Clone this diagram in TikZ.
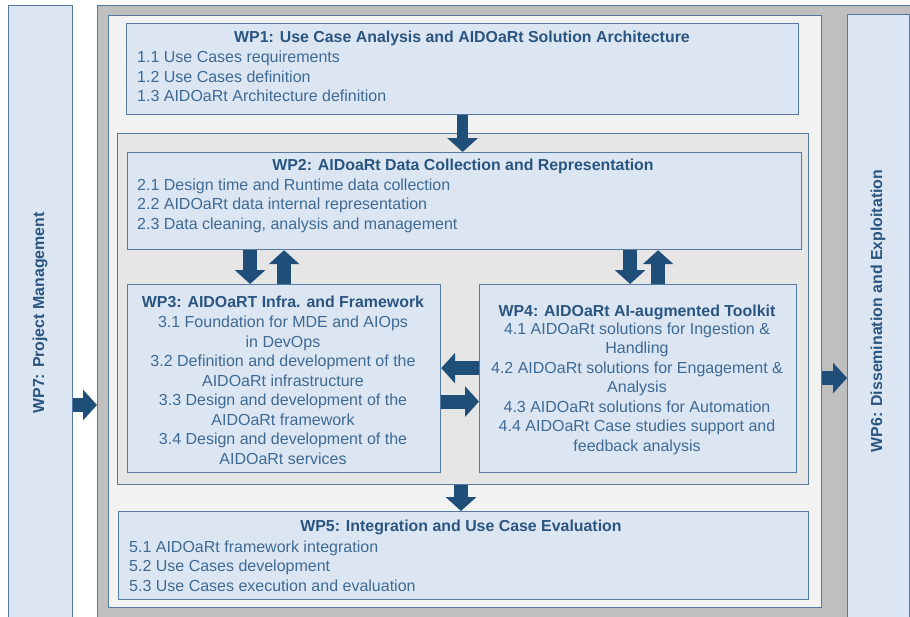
\documentclass[tikz,border=0pt]{standalone}
\usepackage{fontspec}
\setmainfont{Liberation Sans}
\usepackage{tikz}
\usetikzlibrary{arrows.meta, positioning, calc}

\definecolor{boxfill}{HTML}{DCE6F2}
\definecolor{boxline}{HTML}{56799F}
\definecolor{titlecol}{HTML}{2A5580}
\definecolor{itemcol}{HTML}{3E6A94}
\definecolor{arrowcol}{HTML}{1F4E79}
\definecolor{outergray}{HTML}{BFBFBF}
\definecolor{innerlight}{HTML}{F2F2F2}
\definecolor{groupgray}{HTML}{E6E6E6}

\tikzset{
  wpbox/.style={draw=boxline, line width=1.2pt, fill=boxfill, inner sep=0pt, anchor=north west},
  wptitle/.style={text=titlecol, font=\fontsize{15.9}{19.5}\selectfont\bfseries, inner sep=0pt},
  wpitem/.style={text=itemcol, font=\fontsize{16}{19.5}\selectfont, inner sep=0pt},
  blockarrow/.style={draw=arrowcol, line width=14pt, -{Triangle[length=14pt,width=30pt]}}
}

\begin{document}
\begin{tikzpicture}[x=1pt, y=-1pt]
  \clip (0,0) rectangle (910,616);
  \fill[white] (0,0) rectangle (910,616);

  % WP7 side bar
  \node[wpbox, minimum width=64pt, minimum height=640pt] (wp7) at (8,5) {};
  \node[wptitle, rotate=90] (wp7t) at (40,313) {WP7: Project Management};

  % Outer gray frame and inner light panel
  \node[wpbox, fill=outergray, minimum width=830pt, minimum height=640pt] (outer) at (97,5) {};
  \node[wpbox, fill=innerlight, minimum width=713pt, minimum height=592pt] (inner) at (108,15) {};

  % WP6 side bar
  \node[wpbox, minimum width=62pt, minimum height=640pt] (wp6) at (847,14) {};
  \node[wptitle, rotate=90] (wp6t) at (878,311) {WP6: Dissemination and Exploitation};

  % WP1
  \node[wpbox, minimum width=672pt, minimum height=91pt] (wp1) at (126,23) {};
  \node[wptitle] (wp1t) at (462,38) {WP1: Use Case Analysis and AIDOaRt Solution Architecture};
  \node[wpitem, anchor=west, align=left] (wp1i) at (137,76.5)
    {1.1 Use Cases requirements\\1.2 Use Cases definition\\1.3 AIDOaRt Architecture definition};

  % Group of WP2, WP3, WP4
  \node[wpbox, fill=groupgray, minimum width=691pt, minimum height=351pt] (grp) at (117,133) {};

  % WP2
  \node[wpbox, minimum width=674pt, minimum height=97pt] (wp2) at (127,152) {};
  \node[wptitle] (wp2t) at (463,166) {WP2: AIDoaRt Data Collection and Representation};
  \node[wpitem, anchor=west, align=left] (wp2i) at (137,205.5)
    {2.1 Design time and Runtime data collection\\2.2 AIDOaRt data internal representation\\2.3 Data cleaning, analysis and management};

  % WP3
  \node[wpbox, minimum width=313pt, minimum height=188pt] (wp3) at (127,284) {};
  \node[wptitle] (wp3t) at (283,302) {WP3: AIDOaRT Infra. and Framework};
  \node[wpitem, align=center] (wp3i) at (283,390.5)
    {3.1 Foundation for MDE and AIOps\\in DevOps\\3.2 Definition and development of the\\AIDOaRt infrastructure\\3.3 Design and development of the\\AIDOaRt framework\\3.4 Design and development of the\\AIDOaRt services};

  % WP4
  \node[wpbox, minimum width=317pt, minimum height=188pt] (wp4) at (479,284) {};
  \node[wptitle] (wp4t) at (637,312) {WP4: AIDOaRt AI-augmented Toolkit};
  \node[wpitem, align=center] (wp4i) at (637,388.5)
    {4.1 AIDOaRt solutions for Ingestion \&\\Handling\\4.2 AIDOaRt solutions for Engagement \&\\Analysis\\4.3 AIDOaRt solutions for Automation\\4.4 AIDOaRt Case studies support and\\feedback analysis};

  % WP5
  \node[wpbox, minimum width=690pt, minimum height=88pt] (wp5) at (118,511) {};
  \node[wptitle] (wp5t) at (461,527) {WP5: Integration and Use Case Evaluation};
  \node[wpitem, anchor=west, align=left] (wp5i) at (129,566)
    {5.1 AIDOaRt framework integration\\5.2 Use Cases development\\5.3 Use Cases execution and evaluation};

  % Arrow anchor points
  \coordinate (dn3) at ($(wp3.north)+(-34,0)$);
  \coordinate (dn4) at ($(wp4.north)+(-8,0)$);
  \coordinate (up4) at ($(wp4.north)+(20,0)$);
  \coordinate (lf4) at ($(wp4.west)+(0,-10.5)$);
  \coordinate (rt3) at ($(wp3.east)+(0,23)$);

  % Block arrows
  \draw[blockarrow, line width=11pt] (wp1.south) -- (wp1.south |- wp2.north);
  \draw[blockarrow] (dn3 |- wp2.south) -- (dn3);
  \draw[blockarrow] (wp3.north) -- (wp3.north |- wp2.south);
  \draw[blockarrow] (dn4 |- wp2.south) -- (dn4);
  \draw[blockarrow] (up4) -- (up4 |- wp2.south);
  \draw[blockarrow] (lf4) -- (lf4 -| wp3.east);
  \draw[blockarrow] (rt3) -- (rt3 -| wp4.west);
  \draw[blockarrow] (grp.south -| wp5t) -- (wp5.north -| wp5t);
  \draw[blockarrow] (wp7.east |- 0,405) -- (outer.west |- 0,405);
  \draw[blockarrow] (inner.east |- 0,378) -- (wp6.west |- 0,378);
\end{tikzpicture}
\end{document}
